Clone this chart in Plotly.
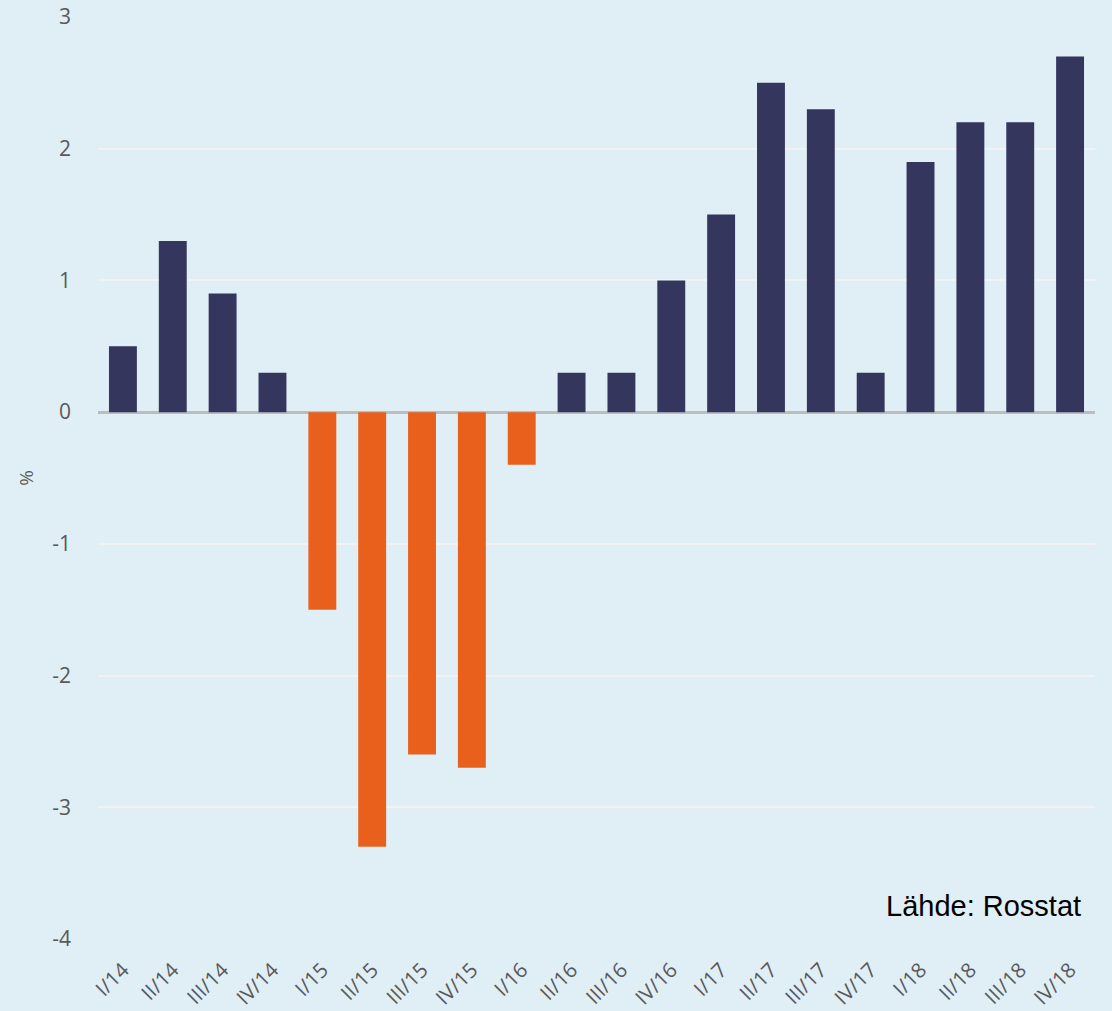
import plotly.graph_objects as go

categories = ["I/14", "II/14", "III/14", "IV/14", "I/15", "II/15", "III/15", "IV/15",
              "I/16", "II/16", "III/16", "IV/16", "I/17", "II/17", "III/17", "IV/17",
              "I/18", "II/18", "III/18", "IV/18"]
values = [0.5, 1.3, 0.9, 0.3, -1.5, -3.3, -2.6, -2.7, -0.4, 0.3, 0.3, 1.0,
          1.5, 2.5, 2.3, 0.3, 1.9, 2.2, 2.2, 2.7]
y_tickvals = [-4, -3, -2, -1, 0, 1, 2, 3]
y_ticktext = ["-4", "-3", "-2", "-1", "0", "1", "2", "3"]
pos_color = "#35365e"
neg_color = "#e8601c"
colors = [pos_color if v >= 0 else neg_color for v in values]

fig = go.Figure(go.Bar(x=categories, y=values, marker_color=colors, marker_line_width=0))

fig.update_layout(
    width=1112, height=1011,
    margin=dict(l=98, r=17, t=17, b=72),
    paper_bgcolor="#e0eef5", plot_bgcolor="#e0eef5",
    bargap=0.44,
    showlegend=False,
    font=dict(family="Open Sans", color="#595959", size=20),
    xaxis=dict(tickangle=-45, tickfont=dict(size=20.5), showgrid=False, ticks="",
               ticklabelstandoff=14, automargin=False),
    yaxis=dict(range=[-4, 3], tickvals=y_tickvals, ticktext=y_ticktext,
               gridcolor="#f2f2f2", gridwidth=2,
               zeroline=True, zerolinecolor="#bdbdbd", zerolinewidth=3,
               ticklabelstandoff=26, automargin=False,
               tickfont=dict(size=21),
               title=dict(text="%", font=dict(size=19), standoff=13)),
    annotations=[dict(text="Lähde: Rosstat", xref="paper", yref="paper",
                      x=0.988, y=0.016, xanchor="right", yanchor="bottom",
                      showarrow=False,
                      font=dict(family="Liberation Sans", size=29, color="#000000"))],
)

fig.write_html("out.html", config={"displayModeBar": False},
               post_script="document.body.style.margin='0px';")
